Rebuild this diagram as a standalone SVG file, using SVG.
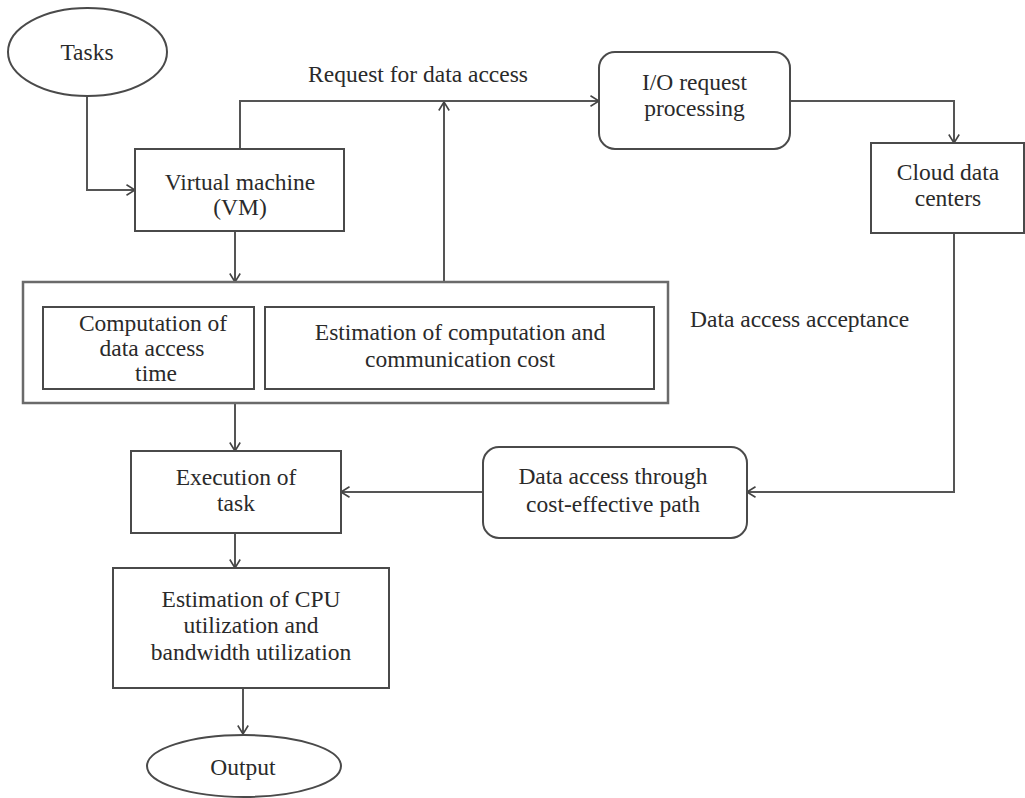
<svg xmlns="http://www.w3.org/2000/svg" width="1025" height="798" viewBox="0 0 1025 798">
  <defs>
    <style>
      .box { fill: #ffffff; stroke: #4a4a4a; stroke-width: 2; }
      .outer { fill: #ffffff; stroke: #6a6a6a; stroke-width: 2.5; }
      .link { fill: none; stroke: #555555; stroke-width: 2; }
      text { font-family: "Liberation Serif", "Times New Roman", serif; font-size: 23.5px; fill: #2a2a2a; }
      .c { text-anchor: middle; }
    </style>
    <marker id="arrow" viewBox="0 0 10 12" refX="9.5" refY="6" markerWidth="10" markerHeight="12" markerUnits="userSpaceOnUse" orient="auto">
      <path d="M1,0.8 L9.5,6 L1,11.2" fill="none" stroke="#444444" stroke-width="1.6"/>
    </marker>
  </defs>

  <!-- connectors -->
  <g id="connectors">
    <path class="link" d="M87,96 V190 H135" marker-end="url(#arrow)"/>
    <path class="link" d="M240,149 V101 H599" marker-end="url(#arrow)"/>
    <path class="link" d="M444,282 V102" marker-end="url(#arrow)"/>
    <path class="link" d="M235,231 V282" marker-end="url(#arrow)"/>
    <path class="link" d="M790,101 H954 V143" marker-end="url(#arrow)"/>
    <path class="link" d="M954,233 V492 H747" marker-end="url(#arrow)"/>
    <path class="link" d="M483,492 H341" marker-end="url(#arrow)"/>
    <path class="link" d="M235,403 V451" marker-end="url(#arrow)"/>
    <path class="link" d="M235,533 V568" marker-end="url(#arrow)"/>
    <path class="link" d="M243,688 V734" marker-end="url(#arrow)"/>
    <text x="528" y="82" text-anchor="end">Request for data access</text>
    <text x="690" y="327">Data access acceptance</text>
  </g>

  <g id="tasks">
    <ellipse class="box" cx="87.5" cy="52" rx="79.5" ry="44"/>
    <text class="c" x="87" y="60">Tasks</text>
  </g>

  <g id="vm">
    <rect class="box" x="135" y="149" width="209" height="82"/>
    <text class="c" x="240" y="190">Virtual machine</text>
    <text class="c" x="240" y="215">(VM)</text>
  </g>

  <g id="io-request">
    <rect class="box" x="599" y="52" width="191" height="97" rx="16" ry="16"/>
    <text class="c" x="694.5" y="90">I/O request</text>
    <text class="c" x="694.5" y="116">processing</text>
  </g>

  <g id="cloud">
    <rect class="box" x="871" y="143" width="153" height="90"/>
    <text class="c" x="948" y="180">Cloud data</text>
    <text class="c" x="948" y="206">centers</text>
  </g>

  <g id="acceptance">
    <rect class="outer" x="23" y="282" width="645" height="121"/>
  </g>

  <g id="access-time">
    <rect class="box" x="43" y="307" width="211" height="82"/>
    <text class="c" x="153" y="331">Computation of</text>
    <text class="c" x="152" y="356">data access</text>
    <text class="c" x="156" y="381">time</text>
  </g>

  <g id="cost-estimation">
    <rect class="box" x="265" y="307" width="389" height="82"/>
    <text class="c" x="460" y="340">Estimation of computation and</text>
    <text class="c" x="460" y="367">communication cost</text>
  </g>

  <g id="data-access">
    <rect class="box" x="483" y="447" width="264" height="91" rx="16" ry="16"/>
    <text class="c" x="613" y="484">Data access through</text>
    <text class="c" x="613" y="512">cost-effective path</text>
  </g>

  <g id="execution">
    <rect class="box" x="131" y="451" width="210" height="82"/>
    <text class="c" x="236" y="485">Execution of</text>
    <text class="c" x="236" y="511">task</text>
  </g>

  <g id="utilization">
    <rect class="box" x="113" y="568" width="276" height="120"/>
    <text class="c" x="251" y="607">Estimation of CPU</text>
    <text class="c" x="251" y="633">utilization and</text>
    <text class="c" x="251" y="660">bandwidth utilization</text>
  </g>

  <g id="output">
    <ellipse class="box" cx="244" cy="766" rx="97" ry="31"/>
    <text class="c" x="243" y="775">Output</text>
  </g>
</svg>
